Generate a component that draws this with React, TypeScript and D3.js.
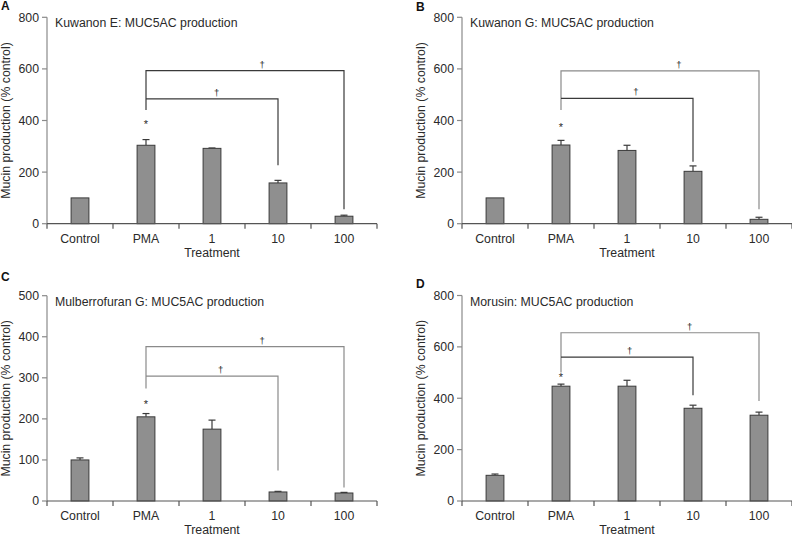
import React from "react";
import * as d3 from "d3";

// ---------- data ----------
const categories = ["Control", "PMA", "1", "10", "100"];
const panelLetters = ["A", "B", "C", "D"];
const panelTitles = [
  "Kuwanon E: MUC5AC production",
  "Kuwanon G: MUC5AC production",
  "Mulberrofuran G: MUC5AC production",
  "Morusin: MUC5AC production",
];
const yMaxes = [800, 800, 500, 800];
const yTicksA = [0, 200, 400, 600, 800];
const yTicksB = [0, 200, 400, 600, 800];
const yTicksC = [0, 100, 200, 300, 400, 500];
const yTicksD = [0, 200, 400, 600, 800];

const meanA = [100, 304, 292, 158, 29];
const semA = [0, 22, 1.5, 10, 4];
const meanB = [100, 305, 284, 203, 17];
const semB = [0, 18, 20, 21, 8];
const meanC = [100, 205, 175, 22, 19.5];
const semC = [5, 8, 22, 1.5, 1.5];
const meanD = [100, 447, 447, 361, 334];
const semD = [5, 8, 23, 12, 12];

// significance brackets: [outer level, inner level, PMA drop end, "10" drop end, "100" drop end]
const bracketA = [593, 484, 441, 227, 56];
const bracketB = [592, 486, 441, 240, 56];
const bracketC = [376, 304, 274, 74, 33];
const bracketD = [655, 560, 500, 412, 389];
// asterisk (vs control) level above PMA
const starLevels = [395, 383, 240, 489];

const yLabel = "Mucin production (% control)";
const xLabel = "Treatment";

// ---------- layout ----------
const W = 792;
const H = 536;
const panels = [
  { x0: 47, x1: 377, yTop: 17.3, yBot: 223.7, letterX: 1, letterY: 10, labelX: 9.5 },
  { x0: 462, x1: 792, yTop: 17.3, yBot: 223.7, letterX: 416, letterY: 11, labelX: 425 },
  { x0: 47, x1: 377, yTop: 295.7, yBot: 501, letterX: 1, letterY: 281, labelX: 9.5 },
  { x0: 462, x1: 792, yTop: 295.5, yBot: 501, letterX: 416, letterY: 288, labelX: 425 },
];
const daggerFrac = [
  [0.586, 0.535],
  [0.595, 0.567],
  [0.586, 0.566],
  [0.65, 0.52],
];
const outerColor = ["#3a3a3a", "#8a8a8a", "#8a8a8a", "#8a8a8a"];
const innerColor = ["#3a3a3a", "#3a3a3a", "#8a8a8a", "#3a3a3a"];

const FONT = "'Liberation Sans', Arial, Helvetica, sans-serif";
const TEXT = "#2a2a2a";

const allMeans = [meanA, meanB, meanC, meanD];
const allSems = [semA, semB, semC, semD];
const allTicks = [yTicksA, yTicksB, yTicksC, yTicksD];
const allBrackets = [bracketA, bracketB, bracketC, bracketD];

function Panel({ i }: { i: number }) {
  const p = panels[i];
  const x = d3.scaleBand<string>().domain(categories).range([p.x0, p.x1]).padding(0);
  const y = d3.scaleLinear().domain([0, yMaxes[i]]).range([p.yBot, p.yTop]);
  const bw = x.bandwidth() * 0.27;
  const cx = (c: string) => (x(c) as number) + x.bandwidth() / 2;
  const means = allMeans[i];
  const sems = allSems[i];
  const br = allBrackets[i];
  const edges = categories.map((c) => x(c) as number).concat([p.x1]);
  const xP = cx("PMA");
  const x10 = cx("10");
  const x100 = cx("100");
  const yOuter = y(br[0]);
  const yInner = y(br[1]);
  const [fo, fi] = daggerFrac[i];
  return (
    <g>
      <text x={p.letterX} y={p.letterY} fontFamily={FONT} fontWeight="bold" fontSize={12} fill="#111">
        {panelLetters[i]}
      </text>
      {/* y axis */}
      <line x1={p.x0} x2={p.x0} y1={y(0)} y2={y(yMaxes[i])} stroke="#8a8a8a" strokeWidth={1.2} />
      {allTicks[i].map((t) => (
        <g key={t}>
          <line x1={p.x0 - 5} x2={p.x0} y1={y(t)} y2={y(t)} stroke="#8a8a8a" strokeWidth={1.2} />
          <text x={p.x0 - 8} y={y(t)} dy="0.36em" textAnchor="end" fontFamily={FONT} fontSize={12.3} fill={TEXT}>
            {t}
          </text>
        </g>
      ))}
      <text
        transform={`translate(${p.labelX},${(p.yTop + p.yBot) / 2}) rotate(-90)`}
        textAnchor="middle"
        fontFamily={FONT}
        fontSize={12.3}
        fill={TEXT}
      >
        {yLabel}
      </text>
      {/* bars */}
      {categories.map((c, k) => (
        <g key={c}>
          {sems[k] > 0 && (
            <g stroke="#3a3a3a" strokeWidth={1.2}>
              <line x1={cx(c)} x2={cx(c)} y1={y(means[k])} y2={y(means[k] + sems[k])} />
              <line x1={cx(c) - 3.5} x2={cx(c) + 3.5} y1={y(means[k] + sems[k])} y2={y(means[k] + sems[k])} />
            </g>
          )}
          <rect
            x={cx(c) - bw / 2}
            y={y(means[k])}
            width={bw}
            height={y(0) - y(means[k])}
            fill="#8f8f8f"
            stroke="#3a3a3a"
            strokeWidth={1}
          />
        </g>
      ))}
      {/* x axis */}
      <line x1={p.x0} x2={p.x1} y1={y(0)} y2={y(0)} stroke="#555" strokeWidth={1.2} />
      {edges.map((e, k) => (
        <line key={k} x1={e} x2={e} y1={y(0)} y2={y(0) + 5} stroke="#555" strokeWidth={1.2} />
      ))}
      {categories.map((c) => (
        <text key={c} x={cx(c)} y={y(0) + 19} textAnchor="middle" fontFamily={FONT} fontSize={12.3} fill={TEXT}>
          {c}
        </text>
      ))}
      <text x={(p.x0 + p.x1) / 2} y={y(0) + 33} textAnchor="middle" fontFamily={FONT} fontSize={12.3} fill={TEXT}>
        {xLabel}
      </text>
      {/* title */}
      <text x={p.x0 + 8} y={p.yTop + 10} fontFamily={FONT} fontSize={12.3} fill={TEXT}>
        {panelTitles[i]}
      </text>
      {/* brackets */}
      <path
        d={`M${xP},${y(br[2])}V${yOuter}H${x100}V${y(br[4])}`}
        fill="none"
        stroke={outerColor[i]}
        strokeWidth={1.2}
      />
      <path
        d={`M${xP},${yInner}H${x10}V${y(br[3])}`}
        fill="none"
        stroke={innerColor[i]}
        strokeWidth={1.2}
      />
      <text x={xP + fo * (x100 - xP)} y={yOuter - 3} textAnchor="middle" fontFamily={FONT} fontSize={9.5} fill={TEXT}>
        †
      </text>
      <text x={xP + fi * (x10 - xP)} y={yInner - 3} textAnchor="middle" fontFamily={FONT} fontSize={9.5} fill={TEXT}>
        †
      </text>
      <text x={xP} y={y(starLevels[i]) + 6} textAnchor="middle" fontFamily={FONT} fontSize={11} fill={TEXT}>
        *
      </text>
    </g>
  );
}

export default function App() {
  return (
    <svg
      width={W}
      height={H}
      viewBox={`0 0 ${W} ${H}`}
      style={{ position: "absolute", left: 0, top: 0, background: "#fff" }}
    >
      <rect width={W} height={H} fill="#fff" />
      {panels.map((_, i) => (
        <Panel key={i} i={i} />
      ))}
    </svg>
  );
}
